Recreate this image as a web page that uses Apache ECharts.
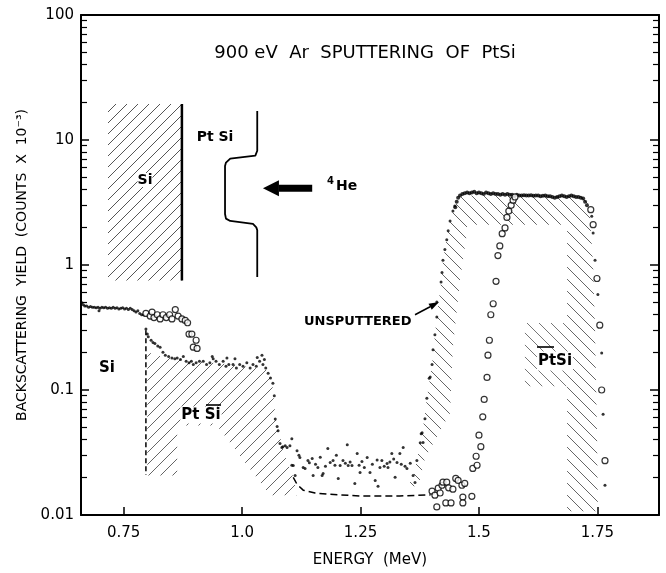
<!DOCTYPE html>
<html>
<head>
<meta charset="utf-8">
<title>900 eV Ar sputtering of PtSi</title>
<script src="https://cdn.jsdelivr.net/npm/echarts@6/dist/echarts.min.js"></script>
<style>
  html, body { margin: 0; padding: 0; background: #fff; }
  #chart { width: 666px; height: 573px; }
</style>
</head>
<body>
<div id="chart"></div>
<script>
// energy in MeV, yield in counts x 10^-3
var X_MIN = 0.66, X_MAX = 1.88;
var xTicks = [0.75, 1.0, 1.25, 1.5, 1.75];
var xTickLabels = ['0.75', '1.0', '1.25', '1.5', '1.75'];
var yTicks = [0.01, 0.1, 1, 10, 100];
var yTickLabels = ['0.01', '0.1', '1', '10', '100'];

// unsputtered sample (dots)
var unsputSi = [
  [0.662, 0.50], [0.665, 0.48], [0.668, 0.47], [0.672, 0.47], [0.676, 0.46], [0.680, 0.465],
  [0.684, 0.46], [0.688, 0.46], [0.692, 0.455], [0.696, 0.46], [0.698, 0.43], [0.700, 0.45],
  [0.704, 0.46], [0.708, 0.455], [0.712, 0.46], [0.716, 0.45], [0.720, 0.455], [0.724, 0.45],
  [0.728, 0.46], [0.732, 0.45], [0.736, 0.455], [0.740, 0.445], [0.744, 0.45], [0.748, 0.455],
  [0.752, 0.445], [0.756, 0.45], [0.760, 0.44], [0.764, 0.45], [0.768, 0.44], [0.772, 0.43],
  [0.776, 0.42], [0.780, 0.43], [0.784, 0.41], [0.788, 0.40], [0.792, 0.40],
  [0.797, 0.308], [0.800, 0.28], [0.802, 0.267], [0.808, 0.25], [0.812, 0.24], [0.816, 0.235],
  [0.822, 0.225], [0.827, 0.22], [0.833, 0.20], [0.838, 0.19], [0.845, 0.185], [0.852, 0.18],
  [0.858, 0.178], [0.863, 0.18], [0.870, 0.175], [0.876, 0.185], [0.882, 0.17], [0.888, 0.165],
  [0.893, 0.17], [0.897, 0.16], [0.903, 0.165], [0.910, 0.17], [0.918, 0.17], [0.925, 0.16],
  [0.932, 0.165], [0.937, 0.185], [0.939, 0.178], [0.945, 0.17], [0.952, 0.16], [0.960, 0.17],
  [0.966, 0.155], [0.968, 0.18], [0.972, 0.16], [0.981, 0.16], [0.985, 0.178], [0.988, 0.15],
  [0.995, 0.16], [1.002, 0.155], [1.010, 0.165], [1.017, 0.15], [1.023, 0.16], [1.030, 0.155],
  [1.032, 0.182], [1.037, 0.17], [1.042, 0.19], [1.044, 0.16], [1.047, 0.175], [1.050, 0.15],
  [1.055, 0.136], [1.060, 0.125], [1.065, 0.113], [1.068, 0.09], [1.070, 0.0586], [1.074, 0.051]
];
var unsputValley = [
  [1.076, 0.0471], [1.080, 0.0373], [1.084, 0.0346], [1.086, 0.0352], [1.091, 0.0358], [1.095, 0.0346],
  [1.101, 0.0358], [1.105, 0.0407], [1.105, 0.025], [1.108, 0.0249], [1.112, 0.0207], [1.116, 0.0327],
  [1.120, 0.0300], [1.122, 0.0288], [1.129, 0.0240], [1.133, 0.0236], [1.139, 0.0273], [1.142, 0.0262],
  [1.148, 0.0283], [1.150, 0.0207], [1.155, 0.0255], [1.160, 0.0240], [1.165, 0.0290], [1.169, 0.0207],
  [1.171, 0.0215], [1.176, 0.0245], [1.181, 0.0340], [1.186, 0.0263], [1.192, 0.0273], [1.196, 0.0250],
  [1.199, 0.0300], [1.203, 0.0196], [1.207, 0.0249], [1.213, 0.0273], [1.218, 0.0260], [1.222, 0.0365],
  [1.224, 0.0249], [1.228, 0.0265], [1.232, 0.0249], [1.238, 0.0179], [1.243, 0.0310], [1.247, 0.0250],
  [1.249, 0.0219], [1.253, 0.0268], [1.258, 0.0240], [1.264, 0.0288], [1.270, 0.0219], [1.275, 0.0255],
  [1.281, 0.0189], [1.285, 0.0275], [1.287, 0.0170], [1.291, 0.0240], [1.295, 0.0273], [1.300, 0.0245],
  [1.306, 0.0258], [1.308, 0.0240], [1.312, 0.0265], [1.316, 0.0310], [1.320, 0.0280], [1.323, 0.0200],
  [1.327, 0.0263], [1.333, 0.0310], [1.336, 0.0255], [1.340, 0.0346], [1.344, 0.0245], [1.348, 0.0236],
  [1.355, 0.0260], [1.361, 0.0207], [1.365, 0.0182], [1.369, 0.0273]
];
var unsputPt = [
  [1.376, 0.0379], [1.378, 0.0447], [1.380, 0.0454], [1.382, 0.038], [1.386, 0.059], [1.390, 0.086],
  [1.395, 0.124], [1.397, 0.127], [1.401, 0.160], [1.403, 0.210], [1.407, 0.277], [1.411, 0.384],
  [1.411, 0.505], [1.420, 0.73], [1.422, 0.87], [1.424, 1.09], [1.428, 1.33], [1.432, 1.59],
  [1.435, 1.88], [1.439, 2.25], [1.445, 2.70], [1.449, 2.96],
  [1.738, 2.45], [1.741, 1.8], [1.745, 1.09], [1.751, 0.58], [1.759, 0.198], [1.762, 0.064], [1.766, 0.0173]
];
var unsputPlateau = [
  [1.450, 2.9], [1.453, 3.2], [1.456, 3.45], [1.460, 3.6], [1.465, 3.7], [1.470, 3.75], [1.475, 3.8],
  [1.480, 3.75], [1.485, 3.8], [1.490, 3.85], [1.495, 3.75], [1.500, 3.8], [1.505, 3.75], [1.510, 3.7],
  [1.515, 3.8], [1.520, 3.75], [1.525, 3.7], [1.530, 3.75], [1.535, 3.7], [1.540, 3.7], [1.545, 3.65],
  [1.550, 3.7], [1.555, 3.65], [1.560, 3.7], [1.565, 3.65], [1.570, 3.65], [1.575, 3.6], [1.580, 3.65],
  [1.585, 3.6], [1.590, 3.6], [1.595, 3.62], [1.600, 3.6], [1.605, 3.6], [1.610, 3.62], [1.615, 3.58],
  [1.620, 3.6], [1.625, 3.6], [1.630, 3.55], [1.635, 3.58], [1.640, 3.6], [1.645, 3.55], [1.650, 3.55],
  [1.655, 3.5], [1.660, 3.45], [1.665, 3.5], [1.670, 3.55], [1.675, 3.6], [1.680, 3.55], [1.685, 3.5],
  [1.690, 3.55], [1.695, 3.6], [1.700, 3.55], [1.705, 3.5], [1.710, 3.5], [1.715, 3.45], [1.720, 3.4],
  [1.724, 3.2], [1.728, 3.0]
];

// sputtered sample (open circles)
var sputSi = [
  [0.797, 0.41], [0.806, 0.39], [0.810, 0.42], [0.814, 0.38], [0.821, 0.40], [0.827, 0.37],
  [0.833, 0.40], [0.840, 0.38], [0.847, 0.40], [0.852, 0.37], [0.859, 0.44], [0.865, 0.39],
  [0.873, 0.37], [0.880, 0.36], [0.885, 0.345], [0.888, 0.28], [0.894, 0.28], [0.897, 0.22],
  [0.903, 0.25], [0.905, 0.215]
];
var sputPt = [
  [1.401, 0.0155], [1.407, 0.0144], [1.411, 0.0116], [1.414, 0.0164], [1.418, 0.0150], [1.422, 0.0173],
  [1.424, 0.0183], [1.430, 0.0125], [1.432, 0.0183], [1.436, 0.0165], [1.441, 0.0125], [1.445, 0.0161],
  [1.451, 0.0196], [1.456, 0.0189], [1.464, 0.0173], [1.466, 0.0139], [1.466, 0.0125], [1.470, 0.0179],
  [1.485, 0.0141], [1.487, 0.0236], [1.496, 0.0250], [1.494, 0.0295], [1.504, 0.0352], [1.500, 0.0435],
  [1.508, 0.061], [1.511, 0.084], [1.517, 0.126], [1.519, 0.19], [1.522, 0.25], [1.525, 0.40],
  [1.530, 0.49], [1.536, 0.74], [1.540, 1.19], [1.544, 1.42], [1.549, 1.78], [1.555, 1.98],
  [1.559, 2.4], [1.563, 2.7], [1.568, 3.0], [1.572, 3.3], [1.576, 3.5],
  [1.736, 2.77], [1.741, 2.1], [1.749, 0.78], [1.755, 0.33], [1.759, 0.10], [1.766, 0.0272]
];

// dashed guide lines
var siEdgeDash = [[0.797, 0.30], [0.797, 0.021]];
var backgroundDash = [[1.108, 0.0200], [1.116, 0.0176], [1.129, 0.0158], [1.154, 0.0150], [1.179, 0.0147],
  [1.249, 0.0142], [1.333, 0.0142], [1.398, 0.0145]];

// hatched signal regions
var siSignal = [[0.800, 0.0207], [0.800, 0.20], [0.83, 0.185], [0.90, 0.17], [0.98, 0.16], [1.05, 0.145],
  [1.063, 0.12], [1.071, 0.058], [1.090, 0.030], [1.108, 0.020], [1.116, 0.0144], [1.059, 0.0144],
  [0.947, 0.052], [0.863, 0.052], [0.863, 0.0207]];
var ptSignal = [[1.350, 0.0170], [1.361, 0.0200], [1.369, 0.0273], [1.376, 0.0379], [1.382, 0.050],
  [1.390, 0.086], [1.401, 0.160], [1.407, 0.277], [1.411, 0.384], [1.420, 0.73], [1.424, 1.09],
  [1.428, 1.33], [1.435, 1.88], [1.445, 2.70], [1.455, 3.3], [1.465, 3.6], [1.720, 3.55], [1.728, 3.3],
  [1.734, 2.5], [1.741, 1.0], [1.745, 0.3], [1.749, 0.05], [1.751, 0.0107], [1.686, 0.0107],
  [1.686, 2.1], [1.475, 2.1], [1.473, 1.64], [1.460, 0.753], [1.445, 0.22], [1.439, 0.0655],
  [1.386, 0.0284], [1.372, 0.0170]];
var ptLabelBox = [[1.597, 0.107], [1.597, 0.344], [1.686, 0.344], [1.686, 0.107]];

// inset: sample sketch
var insetSi = [[0.717, 0.753], [0.717, 19.4], [0.873, 19.4], [0.873, 0.753]];
var insetEdge = [[0.873, 19.4], [0.873, 0.753]];
var insetProfile = [[1.032, 17.1], [1.032, 8.2], [1.028, 7.5], [0.975, 7.1], [0.966, 6.6], [0.964, 6.2],
  [0.964, 2.56], [0.966, 2.35], [0.975, 2.25], [1.023, 2.13], [1.030, 2.0], [1.032, 1.9], [1.032, 0.80]];
var heArrow = [[1.148, 4.11], [1.044, 4.11]];
var unsputArrow = [[1.365, 0.40], [1.4156, 0.505]];

var FONT = '"DejaVu Sans", "Liberation Sans", sans-serif';

function hatch(dir, size, color, lw) {
  var c = document.createElement('canvas');
  c.width = size; c.height = size;
  var g = c.getContext('2d');
  g.strokeStyle = color;
  g.lineWidth = lw;
  g.beginPath();
  var h = size / 2;
  if (dir > 0) {
    g.moveTo(0, size); g.lineTo(size, 0);
    g.moveTo(-h, h); g.lineTo(h, -h);
    g.moveTo(h, size + h); g.lineTo(size + h, h);
  } else {
    g.moveTo(0, 0); g.lineTo(size, size);
    g.moveTo(-h, h); g.lineTo(h, size + h);
    g.moveTo(h, -h); g.lineTo(size + h, h);
  }
  g.stroke();
  return { image: c, repeat: 'repeat' };
}

function polygonSeries(points, fill, z) {
  return {
    type: 'custom', silent: true, z: z, clip: true,
    data: [points[0]],
    renderItem: function (params, api) {
      return {
        type: 'polygon',
        shape: { points: points.map(function (p) { return api.coord(p); }) },
        style: { fill: fill, stroke: null }
      };
    }
  };
}

function arrowSeries(coords, shaft, headW, headL) {
  return {
    type: 'custom', silent: true, z: 5,
    data: [coords[0]],
    renderItem: function (params, api) {
      var a = api.coord(coords[0]), b = api.coord(coords[1]);
      var dx = b[0] - a[0], dy = b[1] - a[1];
      var len = Math.sqrt(dx * dx + dy * dy);
      var ux = dx / len, uy = dy / len, nx = -uy, ny = ux;
      var bx = b[0] - ux * headL, by = b[1] - uy * headL;
      return {
        type: 'group',
        children: [{
          type: 'line',
          shape: { x1: a[0], y1: a[1], x2: bx, y2: by },
          style: { stroke: '#000', lineWidth: shaft }
        }, {
          type: 'polygon',
          shape: { points: [[b[0], b[1]], [bx + nx * headW, by + ny * headW], [bx - nx * headW, by - ny * headW]] },
          style: { fill: '#000' }
        }]
      };
    }
  };
}

function lineSeries(data, width, type, z) {
  return {
    type: 'line', data: data, symbol: 'none', silent: true, z: z,
    lineStyle: { color: '#000', width: width, type: type }
  };
}

function dotSeries(data, size) {
  return {
    type: 'scatter', data: data, symbol: 'circle', symbolSize: size, silent: true, z: 6,
    itemStyle: { color: '#000' }
  };
}

function circleSeries(data) {
  return {
    type: 'scatter', data: data, symbol: 'circle', symbolSize: 6, silent: true, z: 7,
    itemStyle: { color: '#fff', borderColor: '#000', borderWidth: 1.2 }
  };
}

function centered(x, y, text, font, extra) {
  var st = { text: text, font: font, fill: '#000', align: 'center', verticalAlign: 'middle',
    textAlign: 'center', textVerticalAlign: 'middle' };
  for (var k in (extra || {})) st[k] = extra[k];
  return { type: 'text', x: x, y: y, z: 20, style: st };
}

var chart = echarts.init(document.getElementById('chart'), null, { renderer: 'canvas' });

var option = {
  backgroundColor: '#fff',
  animation: false,
  grid: { left: 81, right: 7, top: 15, bottom: 53 },
  xAxis: [{
    type: 'value', min: X_MIN, max: X_MAX, position: 'bottom',
    name: 'ENERGY  (MeV)', nameLocation: 'middle', nameGap: 38,
    nameTextStyle: { color: '#000', fontFamily: FONT, fontSize: 15 },
    axisLine: { lineStyle: { color: '#000', width: 2 } },
    axisTick: { inside: true, length: 8, customValues: xTicks, lineStyle: { color: '#000', width: 1.5 } },
    axisLabel: {
      customValues: xTicks, margin: 11, color: '#000', fontFamily: FONT, fontSize: 15,
      formatter: function (v) {
        for (var i = 0; i < xTicks.length; i++) if (Math.abs(xTicks[i] - v) < 1e-6) return xTickLabels[i];
        return '';
      }
    },
    splitLine: { show: false }
  }, {
    type: 'value', min: X_MIN, max: X_MAX, position: 'top',
    axisLine: { lineStyle: { color: '#000', width: 2 } },
    axisTick: { show: false }, axisLabel: { show: false }, splitLine: { show: false }
  }],
  yAxis: [{
    type: 'log', logBase: 10, min: 0.01, max: 100, position: 'left',
    name: 'BACKSCATTERING  YIELD  (COUNTS  X  10\u207B\u00B3)', nameLocation: 'middle', nameGap: 47,
    nameTextStyle: { color: '#000', fontFamily: FONT, fontSize: 14 },
    axisLine: { lineStyle: { color: '#000', width: 2 } },
    axisTick: { inside: true, length: 8, lineStyle: { color: '#000', width: 1.5 } },
    minorTick: { show: true, splitNumber: 9, length: 6, lineStyle: { color: '#000', width: 1.2 } },
    axisLabel: {
      margin: 7, color: '#000', fontFamily: FONT, fontSize: 15,
      formatter: function (v) {
        for (var i = 0; i < yTicks.length; i++) if (Math.abs(Math.log10(yTicks[i] / v)) < 1e-6) return yTickLabels[i];
        return '';
      }
    },
    splitLine: { show: false }, minorSplitLine: { show: false }
  }, {
    type: 'log', logBase: 10, min: 0.01, max: 100, position: 'right',
    axisLine: { lineStyle: { color: '#000', width: 2 } },
    axisTick: { inside: true, length: 9, lineStyle: { color: '#000', width: 1.5 } },
    minorTick: { show: true, splitNumber: 9, length: 6, lineStyle: { color: '#000', width: 1.2 } },
    axisLabel: { show: false }, splitLine: { show: false }, minorSplitLine: { show: false }
  }],
  graphic: [
    centered(365, 53, '900 eV  Ar  SPUTTERING  OF  PtSi', '18px ' + FONT),
    centered(215, 137, 'Pt Si', 'bold 14px ' + FONT),
    centered(145, 180, 'Si', 'bold 14px ' + FONT, { backgroundColor: '#fff' }),
    { type: 'text', x: 327, y: 186, z: 20, style: { text: '{s|4}{n|He}', font: 'bold 14px ' + FONT, fill: '#000', verticalAlign: 'middle', textVerticalAlign: 'middle',
      rich: { s: { font: 'bold 10px ' + FONT, fill: '#000', verticalAlign: 'top', padding: [0, 2, 10, 0] }, n: { font: 'bold 14px ' + FONT, fill: '#000' } } } },
    { type: 'text', x: 304, y: 322, z: 20, style: { text: 'UNSPUTTERED', font: 'bold 13px ' + FONT, fill: '#000', verticalAlign: 'middle', textVerticalAlign: 'middle' } },
    centered(107, 368, 'Si', 'bold 15px ' + FONT),
    centered(201, 415, 'Pt Si', 'bold 15px ' + FONT, { backgroundColor: '#fff', padding: [2, 1, 0, 1] }),
    { type: 'line', z: 21, shape: { x1: 206, y1: 405, x2: 221, y2: 405 }, style: { stroke: '#000', lineWidth: 1.6 } },
    centered(555, 361, 'PtSi', 'bold 15px ' + FONT, { backgroundColor: '#fff', padding: [4, 1, 0, 1] }),
    { type: 'line', z: 21, shape: { x1: 537, y1: 347, x2: 554, y2: 347 }, style: { stroke: '#000', lineWidth: 1.6 } }
  ],
  series: [
    polygonSeries(siSignal, hatch(1, 12, '#666', 1), 1),
    polygonSeries(ptSignal, hatch(-1, 12, '#666', 1), 1),
    polygonSeries(ptLabelBox, hatch(-1, 12, '#777', 1), 1),
    polygonSeries(insetSi, hatch(1, 11, '#555', 1), 1),
    lineSeries(insetEdge, 2.5, 'solid', 3),
    lineSeries(insetProfile, 1.8, 'solid', 3),
    lineSeries(siEdgeDash, 1.5, [5, 3], 3),
    lineSeries(backgroundDash, 1.5, [7, 4], 3),
    arrowSeries(heArrow, 7, 8, 16),
    arrowSeries(unsputArrow, 1.5, 3.5, 10),
    dotSeries(unsputSi, 3),
    dotSeries(unsputValley, 3),
    dotSeries(unsputPt, 3),
    dotSeries(unsputPlateau, 4),
    circleSeries(sputSi),
    circleSeries(sputPt)
  ]
};

chart.setOption(option);
</script>
</body>
</html>
